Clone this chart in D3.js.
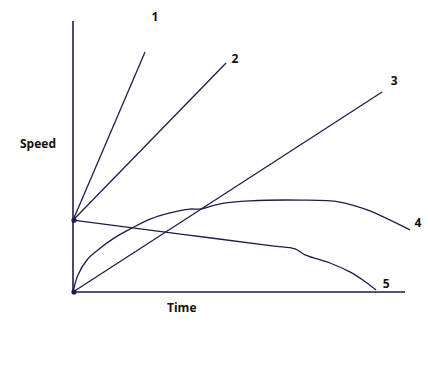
<!DOCTYPE html>
<html lang="en">
<head>
    <meta charset="UTF-8">
    <title>Speed vs Time</title>
    <script src="https://d3js.org/d3.v7.min.js"></script>
</head>
<body>
    <div id="chart"></div>

    <script>
        // Data: each line as [time, speed] points (arbitrary units 0-100)
        const line1 = [[0, 26.5], [21.7, 88.6]];
        const line2 = [[0, 26.5], [46.1, 84.5]];
        const line3 = [[0, 0], [93.1, 73.8]];
        const line4 = [[0, 0], [1.5, 6.3], [4.2, 11.8], [7.5, 15.5], [12.0, 19.6], [17.8, 23.6],
                       [23.2, 26.9], [29.2, 29.2], [35.2, 30.6], [38.3, 30.6], [44.3, 32.5],
                       [53.3, 33.6], [68.4, 33.9], [80.4, 33.2], [88.6, 30.3], [101.5, 22.9]];
        const line5 = [[0, 26.5], [33, 21.3], [60, 17.0], [66.9, 15.9], [69.9, 13.7],
                       [77.4, 10.7], [83.4, 7.4], [87.3, 4.4], [91.3, 0.7]];
        const seriesNames = ['1', '2', '3', '4', '5'];
        const startPoints = [[0, 26.5], [0, 0]];

        const width = 428;
        const height = 368;
        const ink = '#1d1d4d';

        const x = d3.scaleLinear().domain([0, 100]).range([73, 405]);
        const y = d3.scaleLinear().domain([0, 100]).range([292, 21]);

        const svg = d3.select('#chart')
            .append('svg')
            .attr('width', width)
            .attr('height', height);

        svg.append('rect')
            .attr('width', width)
            .attr('height', height)
            .attr('fill', '#ffffff');

        // Axes (plain lines, no ticks)
        svg.append('line')
            .attr('x1', x(0)).attr('y1', y(0))
            .attr('x2', x(0)).attr('y2', y(100))
            .attr('stroke', ink).attr('stroke-width', 1.6);

        svg.append('line')
            .attr('x1', x(0)).attr('y1', y(0))
            .attr('x2', x(100)).attr('y2', y(0))
            .attr('stroke', ink).attr('stroke-width', 1.6);

        const lineGen = d3.line()
            .x(d => x(d[0]))
            .y(d => y(d[1]))
            .curve(d3.curveCatmullRom.alpha(0.5));

        const series = [line1, line2, line3, line4, line5];

        svg.selectAll('.series')
            .data(series)
            .enter()
            .append('path')
            .attr('class', 'series')
            .attr('d', lineGen)
            .attr('fill', 'none')
            .attr('stroke', ink)
            .attr('stroke-width', 1.3);

        svg.selectAll('.start')
            .data(startPoints)
            .enter()
            .append('circle')
            .attr('class', 'start')
            .attr('cx', d => x(d[0]) + 1)
            .attr('cy', d => y(d[1]))
            .attr('r', 2.6)
            .attr('fill', ink);

        // Labels at the line ends
        const labelOffsets = [[10, -34], [9, -3], [12, -10], [8, -6], [10, -5]];
        svg.selectAll('.num')
            .data(series)
            .enter()
            .append('text')
            .attr('class', 'num')
            .attr('x', (d, i) => x(d[d.length - 1][0]) + labelOffsets[i][0])
            .attr('y', (d, i) => y(d[d.length - 1][1]) + labelOffsets[i][1])
            .attr('text-anchor', 'middle')
            .attr('dominant-baseline', 'middle')
            .style('font', 'bold 12px "Open Sans", sans-serif')
            .attr('fill', '#111')
            .text((d, i) => seriesNames[i]);

        svg.append('text')
            .attr('x', 20).attr('y', 148)
            .style('font', 'bold 12px "Open Sans", sans-serif')
            .attr('fill', '#111')
            .text('Speed');

        svg.append('text')
            .attr('x', 167).attr('y', 312)
            .style('font', 'bold 12px "Open Sans", sans-serif')
            .attr('fill', '#111')
            .text('Time');
    </script>
</body>
<style>
    body { margin: 0; background: #fff; }
</style>
</html>
